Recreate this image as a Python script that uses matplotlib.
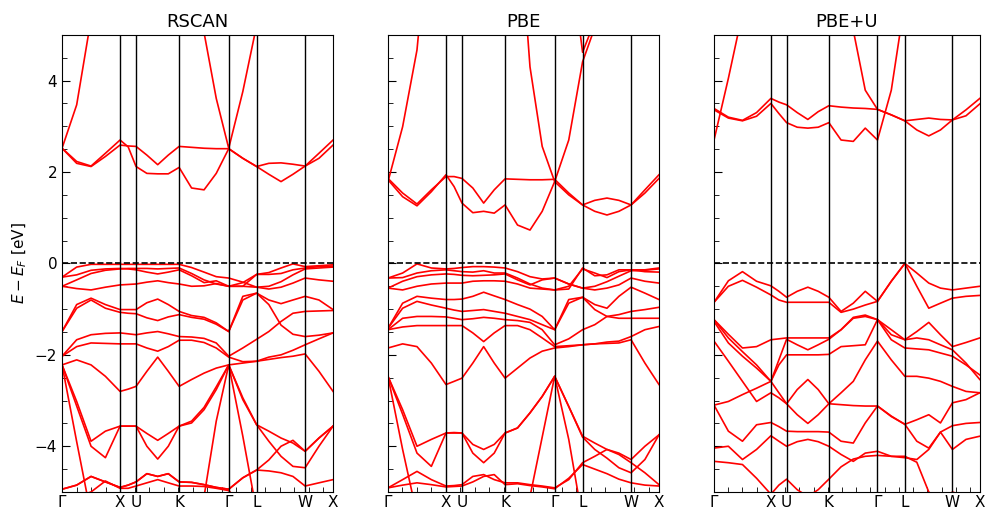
import matplotlib
matplotlib.use("Agg")
import matplotlib.pyplot as plt
from matplotlib.ticker import MultipleLocator

# k-path sample positions (fraction of path) and high-symmetry ticks
kpts = [0, .054, .107, .16, .214, .244, .273, .313, .353, .392, .432, .478,
        .524, .569, .615, .667, .718, .763, .808, .852, .897, .948, 1.0]
tick_pos = [0, 0.214, 0.273, 0.432, 0.615, 0.718, 0.897, 1.0]
tick_labels = ['Γ', 'X', 'U', 'K', 'Γ', 'L', 'W', 'X']

# ---------------- RSCAN ----------------
r_cb0 = [2.52, 3.47, 5.35, 8, 8, 8, 8, 8, 8, 8, 8, 8, 5.05, 3.61, 2.52, 3.76, 5.21, 8, 8, 8, 8, 8, 8]
r_cb1 = [2.52, 2.19, 2.12, 2.34, 2.59, 2.57, 2.56, 2.37, 2.16, 2.37, 2.56, 2.54, 2.52, 2.51, 2.51, 2.30, 2.12, 2.19, 2.20, 2.17, 2.13, 2.30, 2.59]
r_cb2 = [2.52, 2.23, 2.13, 2.41, 2.70, 2.55, 2.12, 1.97, 1.96, 1.96, 2.10, 1.65, 1.61, 1.97, 2.51, 2.30, 2.12, 1.95, 1.79, 1.95, 2.13, 2.41, 2.70]
r_v1 = [-0.30, -0.08, -0.02, -0.02, -0.02, -0.02, -0.02, -0.02, -0.02, -0.02, -0.02, -0.09, -0.19, -0.29, -0.32, -0.41, -0.52, -0.56, -0.52, -0.43, -0.32, -0.36, -0.39]
r_v2 = [-0.30, -0.25, -0.15, -0.12, -0.11, -0.12, -0.14, -0.19, -0.23, -0.19, -0.14, -0.27, -0.42, -0.38, -0.50, -0.50, -0.24, -0.24, -0.22, -0.14, -0.10, -0.07, -0.06]
r_v3 = [-0.50, -0.55, -0.58, -0.52, -0.47, -0.46, -0.45, -0.41, -0.38, -0.42, -0.45, -0.50, -0.49, -0.44, -0.50, -0.42, -0.24, -0.20, -0.10, -0.01, -0.07, -0.05, -0.03]
r_v4 = [-0.50, -0.36, -0.22, -0.15, -0.12, -0.11, -0.11, -0.11, -0.12, -0.11, -0.10, -0.22, -0.36, -0.45, -0.50, -0.50, -0.52, -0.50, -0.40, -0.25, -0.12, -0.10, -0.08]
r_m1 = [-1.49, -0.90, -0.76, -0.90, -1.01, -1.01, -1.01, -0.86, -0.78, -0.90, -1.05, -1.14, -1.18, -1.30, -1.49, -0.80, -0.65, -0.90, -1.35, -1.55, -1.60, -1.57, -1.52]
r_m2 = [-1.49, -0.98, -0.80, -0.98, -1.07, -1.09, -1.10, -1.19, -1.25, -1.17, -1.12, -1.18, -1.22, -1.33, -1.49, -0.72, -0.65, -0.80, -0.88, -0.80, -0.72, -0.80, -1.01]
r_n1 = [-2.03, -1.67, -1.56, -1.53, -1.52, -1.54, -1.56, -1.52, -1.49, -1.54, -1.60, -1.61, -1.64, -1.74, -2.03, -1.85, -1.66, -1.49, -1.27, -1.09, -1.05, -1.04, -1.03]
r_n2 = [-2.03, -1.82, -1.74, -1.75, -1.76, -1.76, -1.76, -1.85, -1.92, -1.82, -1.68, -1.68, -1.73, -1.85, -2.05, -2.15, -2.14, -2.05, -2.00, -1.90, -1.78, -1.65, -1.52]
r_p1 = [-2.22, -2.11, -2.22, -2.47, -2.80, -2.75, -2.69, -2.36, -2.05, -2.36, -2.69, -2.54, -2.40, -2.29, -2.22, -2.18, -2.14, -2.10, -2.06, -2.03, -1.98, -2.36, -2.80]
r_q1 = [-2.22, -3.02, -3.89, -3.67, -3.56, -3.56, -3.56, -3.72, -3.87, -3.72, -3.56, -3.45, -3.15, -2.70, -2.22, -2.94, -3.53, -3.67, -3.82, -3.93, -4.11, -3.82, -3.56]
r_q2 = [-2.22, -3.12, -4.00, -4.25, -3.56, -3.56, -3.56, -4.00, -4.28, -4.00, -3.56, -3.49, -3.20, -2.76, -2.22, -2.98, -3.53, -3.89, -4.22, -4.44, -4.47, -4.00, -3.56]
r_s1 = [-2.22, -3.90, -5.50, -6, -6, -6, -6, -6, -6, -6, -6, -6, -5.10, -3.45, -2.22, -3.78, -5.43, -6, -6, -6, -6, -6, -6]
r_w1 = [-4.94, -4.85, -4.66, -4.78, -4.90, -4.85, -4.78, -4.60, -4.66, -4.60, -4.78, -4.79, -4.84, -4.90, -4.94, -4.69, -4.52, -4.54, -4.58, -4.66, -4.87, -4.80, -4.73]
r_w2 = [-5.20, -5.10, -5.00, -4.76, -4.92, -4.92, -4.87, -4.80, -4.73, -4.80, -4.87, -4.87, -4.88, -4.92, -4.97, -5.30, -5.60, -5.6, -5.6, -5.6, -5.6, -5.6, -5.6]
r_r1 = [-4.94, -4.85, -4.66, -4.78, -4.90, -4.85, -4.78, -4.60, -4.66, -4.60, -4.78, -4.79, -4.84, -4.90, -4.94, -4.69, -4.52, -4.30, -4.00, -3.87, -4.11, -3.82, -3.56]

# ---------------- PBE ----------------
p_cb0 = [1.79, 2.99, 4.67, 8, 8, 8, 8, 8, 8, 8, 8, 8, 4.30, 2.56, 1.79, 2.70, 4.41, 5.16, 8, 8, 8, 8, 8]
p_cb3 = [8, 8, 8, 8, 8, 8, 8, 8, 8, 8, 8, 8, 8, 8, 8, 7.0, 4.62, 5.30, 8, 8, 8, 8, 8]
p_cb1 = [1.86, 1.54, 1.30, 1.61, 1.90, 1.90, 1.86, 1.65, 1.32, 1.61, 1.85, 1.84, 1.83, 1.83, 1.84, 1.54, 1.28, 1.38, 1.43, 1.38, 1.28, 1.61, 1.94]
p_cb2 = [1.83, 1.46, 1.26, 1.57, 1.94, 1.68, 1.32, 1.11, 1.14, 1.10, 1.28, 0.84, 0.73, 1.14, 1.79, 1.50, 1.28, 1.14, 1.06, 1.14, 1.28, 1.54, 1.86]
p_v1 = [-0.32, -0.21, -0.01, -0.10, -0.12, -0.11, -0.09, -0.07, -0.07, -0.08, -0.10, -0.18, -0.29, -0.34, -0.32, -0.45, -0.54, -0.58, -0.54, -0.47, -0.32, -0.39, -0.43]
p_v2 = [-0.32, -0.31, -0.21, -0.16, -0.14, -0.16, -0.18, -0.19, -0.16, -0.21, -0.21, -0.32, -0.45, -0.54, -0.58, -0.56, -0.10, -0.27, -0.25, -0.14, -0.14, -0.14, -0.10]
p_v3 = [-0.54, -0.58, -0.50, -0.45, -0.43, -0.43, -0.43, -0.39, -0.38, -0.38, -0.39, -0.45, -0.54, -0.56, -0.58, -0.50, -0.12, -0.21, -0.31, -0.18, -0.14, -0.18, -0.19]
p_v4 = [-0.54, -0.39, -0.29, -0.25, -0.23, -0.24, -0.26, -0.27, -0.26, -0.25, -0.23, -0.36, -0.47, -0.36, -0.32, -0.45, -0.54, -0.50, -0.40, -0.28, -0.16, -0.15, -0.12]
p_m1 = [-1.42, -0.87, -0.72, -0.76, -0.79, -0.79, -0.78, -0.72, -0.63, -0.71, -0.79, -0.90, -1.00, -1.16, -1.45, -0.87, -0.74, -0.90, -0.98, -0.72, -0.52, -0.65, -0.79]
p_m2 = [-1.42, -0.98, -0.83, -0.91, -0.98, -1.02, -1.05, -1.03, -1.01, -1.05, -1.09, -1.16, -1.23, -1.34, -1.45, -0.79, -0.74, -1.01, -1.16, -1.20, -1.20, -1.20, -1.20]
p_n1 = [-1.45, -1.20, -1.16, -1.16, -1.17, -1.20, -1.23, -1.21, -1.18, -1.20, -1.23, -1.25, -1.29, -1.45, -1.78, -1.65, -1.45, -1.34, -1.16, -1.12, -1.05, -1.01, -0.96]
p_n2 = [-1.45, -1.39, -1.36, -1.36, -1.36, -1.36, -1.36, -1.52, -1.71, -1.52, -1.36, -1.36, -1.45, -1.63, -1.82, -1.80, -1.78, -1.76, -1.72, -1.70, -1.60, -1.45, -1.38]
p_p1 = [-1.85, -1.76, -1.82, -2.18, -2.65, -2.58, -2.51, -2.18, -1.82, -2.18, -2.51, -2.29, -2.07, -1.92, -1.85, -1.82, -1.78, -1.76, -1.75, -1.74, -1.67, -2.18, -2.65]
p_q1 = [-2.47, -3.20, -4.00, -3.85, -3.71, -3.70, -3.71, -3.96, -4.07, -3.96, -3.71, -3.60, -3.27, -2.91, -2.47, -3.13, -3.78, -3.93, -4.07, -4.15, -4.29, -4.00, -3.75]
p_q2 = [-2.47, -3.30, -4.15, -4.44, -3.71, -3.71, -3.71, -4.15, -4.36, -4.15, -3.71, -3.60, -3.27, -2.91, -2.47, -3.13, -3.80, -4.07, -4.26, -4.47, -4.58, -4.29, -3.75]
p_s1 = [-2.47, -4.07, -5.50, -6, -6, -6, -6, -6, -6, -6, -6, -6, -5.10, -3.80, -2.47, -3.85, -5.60, -6, -6, -6, -6, -6, -6]
p_w1 = [-4.91, -4.73, -4.55, -4.73, -4.87, -4.86, -4.84, -4.66, -4.62, -4.73, -4.80, -4.80, -4.84, -4.87, -4.91, -4.73, -4.36, -4.22, -4.07, -4.18, -4.36, -4.58, -4.84]
p_w2 = [-4.91, -4.85, -4.80, -4.84, -4.89, -4.88, -4.87, -4.78, -4.66, -4.62, -4.84, -4.82, -4.86, -4.89, -4.93, -4.70, -4.40, -4.50, -4.60, -4.72, -4.80, -4.85, -4.87]

# ---------------- PBE+U ----------------
u_cb0 = [2.70, 4.05, 5.48, 8, 8, 8, 8, 8, 8, 8, 8, 8, 5.10, 3.79, 3.37, 3.25, 3.12, 2.92, 2.79, 2.92, 3.14, 3.23, 3.49]
u_cb1 = [3.39, 3.20, 3.13, 3.30, 3.61, 3.53, 3.47, 3.30, 3.15, 3.32, 3.45, 3.42, 3.40, 3.39, 3.37, 3.25, 3.12, 3.15, 3.18, 3.15, 3.14, 3.36, 3.61]
u_cb2 = [3.36, 3.18, 3.12, 3.22, 3.50, 3.28, 3.08, 2.98, 2.96, 2.98, 3.08, 2.70, 2.67, 2.96, 2.70, 3.79, 5.74, 8, 8, 8, 8, 8, 8]
u_v1 = [-0.85, -0.38, -0.18, -0.39, -0.49, -0.61, -0.74, -0.61, -0.52, -0.61, -0.74, -1.05, -0.87, -0.61, -0.83, -0.39, 0.0, -0.21, -0.43, -0.54, -0.58, -0.54, -0.50]
u_v2 = [-0.85, -0.50, -0.37, -0.52, -0.69, -0.80, -0.85, -0.85, -0.85, -0.85, -0.85, -1.07, -1.00, -0.91, -0.83, -0.39, 0.0, -0.50, -0.98, -0.87, -0.76, -0.72, -0.70]
u_b1 = [-1.23, -1.55, -1.85, -1.82, -1.67, -1.65, -1.63, -1.63, -1.63, -1.63, -1.63, -1.45, -1.18, -1.13, -1.23, -1.45, -1.67, -1.49, -1.29, -1.56, -1.82, -1.73, -1.63]
u_b2 = [-1.27, -1.74, -2.03, -2.29, -2.58, -2.11, -1.66, -1.78, -1.89, -1.78, -1.66, -1.45, -1.20, -1.16, -1.23, -1.56, -1.67, -1.63, -1.67, -1.78, -1.89, -2.18, -2.54]
u_b3 = [-1.23, -1.63, -1.93, -2.22, -2.58, -2.22, -2.00, -2.00, -2.00, -2.00, -1.99, -1.82, -1.80, -1.78, -1.23, -1.67, -1.85, -1.87, -1.89, -1.96, -2.03, -2.22, -2.44]
u_d1 = [-1.70, -2.14, -2.58, -3.02, -2.83, -2.94, -3.07, -2.76, -2.54, -2.76, -3.07, -2.83, -2.58, -2.11, -1.70, -2.11, -2.47, -2.47, -2.51, -2.58, -2.69, -2.80, -2.83]
u_d2 = [-3.10, -3.02, -2.87, -2.73, -2.58, -2.83, -3.07, -3.31, -3.50, -3.31, -3.07, -3.09, -3.11, -3.12, -3.12, -3.34, -3.52, -3.42, -3.31, -3.49, -3.05, -2.98, -2.83]
u_d3 = [-3.10, -3.67, -3.89, -3.53, -3.48, -3.57, -3.67, -3.68, -3.68, -3.68, -3.69, -3.89, -3.93, -3.49, -3.12, -3.35, -3.52, -3.89, -4.04, -3.69, -3.55, -3.50, -3.48]
u_d4 = [-4.04, -4.00, -4.29, -4.07, -3.77, -3.89, -4.00, -3.90, -3.85, -3.90, -4.00, -4.18, -4.33, -4.15, -4.11, -4.22, -4.25, -4.29, -4.07, -3.69, -4.07, -3.85, -3.78]
u_d5 = [-4.33, -4.36, -4.40, -4.70, -5.05, -4.85, -4.72, -4.95, -5.10, -4.95, -4.72, -4.45, -4.28, -4.22, -4.20, -4.22, -4.22, -4.35, -5.00, -5.20, -5.00, -5.10, -5.20]

rscan_bands = [r_cb0, r_cb1, r_cb2, r_v1, r_v2, r_v3, r_v4, r_m1, r_m2, r_n1, r_n2,
               r_p1, r_q1, r_q2, r_s1, r_w1, r_w2, r_r1]
pbe_bands = [p_cb0, p_cb3, p_cb1, p_cb2, p_v1, p_v2, p_v3, p_v4, p_m1, p_m2, p_n1,
             p_n2, p_p1, p_q1, p_q2, p_s1, p_w1, p_w2]
pbeu_bands = [u_cb0, u_cb1, u_cb2, u_v1, u_v2, u_b1, u_b2, u_b3, u_d1, u_d2, u_d3,
              u_d4, u_d5]

titles = ['RSCAN', 'PBE', 'PBE+U']
panels = [rscan_bands, pbe_bands, pbeu_bands]
lefts = [0.0628, 0.3927, 0.7227]
widths = [0.2743, 0.2743, 0.2690]

fig = plt.figure(figsize=(9.88, 5.13), dpi=100)

for i, (bands, title) in enumerate(zip(panels, titles)):
    ax = fig.add_axes([lefts[i], 0.041, widths[i], 0.891])
    for b in bands:
        ax.plot(kpts, b, color='red', lw=1.2)
    for t in tick_pos[1:-1]:
        ax.axvline(t, color='black', lw=1.0)
    ax.axhline(0, color='black', ls='--', lw=1.2)
    ax.set_xlim(0, 1)
    ax.set_ylim(-5, 5)
    ax.set_xticks(tick_pos)
    ax.set_xticklabels(tick_labels, fontsize=11)
    ax.xaxis.set_minor_locator(MultipleLocator(0.0535))
    ax.yaxis.set_major_locator(MultipleLocator(2))
    ax.yaxis.set_minor_locator(MultipleLocator(0.5))
    ax.tick_params(axis='both', which='major', direction='in', length=6, labelsize=11)
    ax.tick_params(axis='both', which='minor', direction='in', length=3.5)
    ax.tick_params(axis='x', which='major', length=0, pad=2)
    if i == 0:
        ax.set_ylabel(r'$E - E_F$ [eV]', fontsize=11)
    else:
        ax.set_yticklabels([])
    ax.set_title(title, fontsize=13)

fig.savefig('out.png', dpi=100)
